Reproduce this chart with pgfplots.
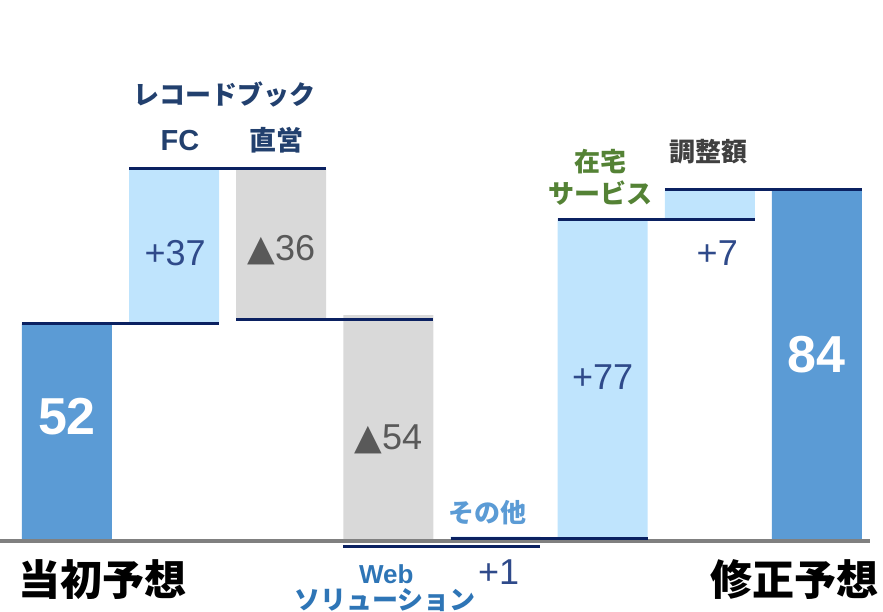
\documentclass[border=0pt]{standalone}
\usepackage{pgfplots}
\pgfplotsset{compat=1.18}
\usepackage{fontspec}
\setmainfont{Liberation Sans}
\newfontfamily\cjk{Noto Sans CJK JP}
\newfontfamily\sym{DejaVu Sans}
\definecolor{darkbar}{HTML}{5B9BD5}
\definecolor{lightbar}{HTML}{BFE4FD}
\definecolor{graybar}{HTML}{D9D9D9}
\definecolor{navyline}{HTML}{0B2161}
\definecolor{baseg}{HTML}{808080}
\definecolor{plusc}{HTML}{2F4A8A}
\definecolor{minusc}{HTML}{595959}
\definecolor{rbc}{HTML}{22406E}
\definecolor{othc}{HTML}{5B9BD5}
\definecolor{webc}{HTML}{2E75B6}
\definecolor{grnc}{HTML}{548235}
\definecolor{adjc}{HTML}{404040}
\begin{document}
\begin{tikzpicture}
\begin{axis}[
  scale only axis, width=883pt, height=612pt,
  xmin=-0.625, xmax=7.617, ymin=-17, ymax=129.4,
  hide axis, clip=false,
  ybar stacked, bar width=0.84,
]
% invisible base
\addplot[draw=none, fill=none] coordinates {(0,0) (1,52) (2,53) (3,-1) (4,-1) (5,0) (6,77) (7,0)};
% start / end
\addplot[draw=none, fill=darkbar] coordinates {(0,52) (1,0) (2,0) (3,0) (4,0) (5,0) (6,0) (7,84)};
% increases
\addplot[draw=none, fill=lightbar] coordinates {(0,0) (1,37) (2,0) (3,0) (4,1) (5,77) (6,7) (7,0)};
% decreases
\addplot[draw=none, fill=graybar] coordinates {(0,0) (1,0) (2,36) (3,54) (4,0) (5,0) (6,0) (7,0)};
\end{axis}
\begin{axis}[
  scale only axis, width=883pt, height=612pt,
  xmin=-0.625, xmax=7.617, ymin=-17, ymax=129.4,
  hide axis, clip=false,
]
% baseline
\addplot[baseg, line width=3.5pt] coordinates {(-0.625,0) (7.495,0)};
% connectors
\addplot[navyline, line width=3pt] coordinates {(-0.42,52) (1.42,52)};
\addplot[navyline, line width=3pt] coordinates {(0.58,89) (2.42,89)};
\addplot[navyline, line width=3pt] coordinates {(1.58,53) (3.42,53)};
\addplot[navyline, line width=3pt] coordinates {(2.58,-1.4) (4.42,-1.4)};
\addplot[navyline, line width=3pt] coordinates {(3.58,0.6) (5.42,0.6)};
\addplot[navyline, line width=3pt] coordinates {(4.58,77) (6.42,77)};
\addplot[navyline, line width=3pt] coordinates {(5.58,84) (7.42,84)};

% value labels
\node[white, font=\fontsize{52}{56}\selectfont\bfseries] at (axis cs:0,29.7) {52};
\node[white, font=\fontsize{52}{56}\selectfont\bfseries] at (axis cs:7,44.5) {84};
\node[plusc, font=\fontsize{36}{40}\selectfont] at (axis cs:1.01,68.9) {+37};
\node[minusc, font=\fontsize{36}{40}\selectfont, inner sep=0pt] at (axis cs:2.0,69.6) {{\sym ▲}36};
\node[minusc, font=\fontsize{36}{40}\selectfont, inner sep=0pt] at (axis cs:3.0,24.2) {{\sym ▲}54};
\node[plusc, font=\fontsize{36}{40}\selectfont] at (axis cs:4.03,-7.4) {+1};
\node[plusc, font=\fontsize{36}{40}\selectfont] at (axis cs:5.0,39.2) {+77};
\node[plusc, font=\fontsize{36}{40}\selectfont] at (axis cs:6.07,68.9) {+7};

% category labels
\node[rbc, font=\fontsize{26}{30}\selectfont\cjk\bfseries] at (axis cs:1.475,106.7) {レコードブック};
\node[rbc, font=\fontsize{29}{33}\selectfont\bfseries] at (axis cs:1.055,95.9) {FC};
\node[rbc, font=\fontsize{27}{31}\selectfont\cjk\bfseries] at (axis cs:1.96,95.9) {直営};
\node[othc, font=\fontsize{26}{30}\selectfont\cjk\bfseries] at (axis cs:3.93,6.7) {その他};
\node[webc, font=\fontsize{26}{30}\selectfont\bfseries] at (axis cs:2.98,-7.9) {Web};
\node[webc, font=\fontsize{26}{30}\selectfont\cjk\bfseries] at (axis cs:2.97,-14.1) {ソリューション};
\node[grnc, font=\fontsize{26}{30}\selectfont\cjk\bfseries] at (axis cs:4.98,90.7) {在宅};
\node[grnc, font=\fontsize{26}{30}\selectfont\cjk\bfseries] at (axis cs:4.98,83.3) {サービス};
\node[adjc, font=\fontsize{26}{30}\selectfont\cjk\bfseries] at (axis cs:5.99,93.1) {調整額};
\node[black, font=\fontsize{42}{46}\selectfont\cjk\bfseries] at (axis cs:0.33,-9.3) {当初予想};
\node[black, font=\fontsize{42}{46}\selectfont\cjk\bfseries] at (axis cs:6.79,-9.3) {修正予想};
\end{axis}
\pgfresetboundingbox
\path (current axis.south west) rectangle (current axis.north east);
\end{tikzpicture}
\end{document}
